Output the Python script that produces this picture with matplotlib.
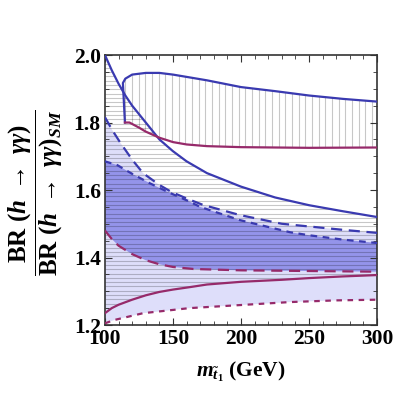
import numpy as np
import matplotlib
matplotlib.use("Agg")
import matplotlib.pyplot as plt
from matplotlib.patches import Polygon

plt.rcParams['font.family'] = 'Liberation Serif'
plt.rcParams['font.weight'] = 'bold'
plt.rcParams['axes.labelweight'] = 'bold'
plt.rcParams['mathtext.fontset'] = 'custom'
plt.rcParams['mathtext.rm'] = 'Liberation Serif:bold'
plt.rcParams['mathtext.it'] = 'Liberation Serif:bold:italic'
plt.rcParams['mathtext.bf'] = 'Liberation Serif:bold'

# solid blue, upper edge of the horizontally hatched band
blue_solid_x = [100, 105, 110, 115, 120, 130, 140, 150, 160, 175, 200, 225, 250, 275, 300]
blue_solid_y = [2.0, 1.955, 1.915, 1.88, 1.85, 1.80, 1.75, 1.715, 1.685, 1.65, 1.61, 1.578, 1.555, 1.537, 1.52]

# long dashed blue
blue_ldash_x = [100, 105, 111, 120, 128, 140, 149, 160, 172, 199, 230, 250, 275, 300]
blue_ldash_y = [1.816, 1.78, 1.742, 1.69, 1.65, 1.615, 1.594, 1.575, 1.556, 1.526, 1.50, 1.492, 1.482, 1.473]

# short dashed blue
blue_sdash_x = [100, 109, 120, 133, 148, 162, 170, 199, 236, 250, 275, 300]
blue_sdash_y = [1.685, 1.674, 1.648, 1.62, 1.591, 1.566, 1.55, 1.511, 1.475, 1.466, 1.453, 1.443]

# purple curves
purp_ldash_x = [100, 105, 110, 120, 130, 140, 150, 165, 200, 250, 300]
purp_ldash_y = [1.48, 1.455, 1.435, 1.41, 1.392, 1.38, 1.372, 1.366, 1.362, 1.36, 1.358]

purp_solid_x = [100, 105, 110, 120, 130, 140, 150, 162, 175, 200, 230, 250, 275, 300]
purp_solid_y = [1.235, 1.25, 1.26, 1.275, 1.288, 1.298, 1.305, 1.312, 1.32, 1.328, 1.334, 1.339, 1.344, 1.348]

purp_dot_x = [100, 107, 128, 162, 199, 236, 270, 300]
purp_dot_y = [1.205, 1.215, 1.235, 1.25, 1.259, 1.268, 1.273, 1.275]

# vertically hatched region (upper right)
vtop_x = [114.7, 113.2, 115, 120, 130, 140, 150, 175, 200, 225, 250, 275, 300]
vtop_y = [1.80, 1.917, 1.930, 1.942, 1.947, 1.947, 1.942, 1.925, 1.905, 1.893, 1.88, 1.87, 1.862]
vbot_x = [114.7, 118, 125, 130, 140, 150, 160, 175, 200, 250, 300]
vbot_y = [1.80, 1.80, 1.785, 1.773, 1.755, 1.742, 1.735, 1.73, 1.727, 1.725, 1.726]

blue = '#3a3ab0'
purple = '#962a6a'
light = '#dedefa'
dark = '#9494ea'


def band(x1, y1, x2, y2):
    pts = list(zip(x1, y1)) + list(zip(x2[::-1], y2[::-1]))
    return np.array(pts)


fig = plt.figure(figsize=(3.99, 3.93), dpi=100)
ax = fig.add_axes([0.263, 0.173, 0.682, 0.687])

# light bands and their overlap
ax.add_patch(Polygon(band(blue_ldash_x, blue_ldash_y, purp_ldash_x, purp_ldash_y),
                     facecolor=light, edgecolor='none', zorder=1))
ax.add_patch(Polygon(band(blue_sdash_x, blue_sdash_y, purp_dot_x, purp_dot_y),
                     facecolor=light, edgecolor='none', zorder=1))
ax.add_patch(Polygon(band(blue_sdash_x, blue_sdash_y, purp_ldash_x, purp_ldash_y),
                     facecolor=dark, edgecolor='none', zorder=1.1))

# horizontal hatching
hpoly = Polygon(band(blue_solid_x, blue_solid_y, purp_solid_x, purp_solid_y),
                facecolor='none', edgecolor='none', transform=ax.transData)
ax.add_patch(hpoly)
hl = ax.hlines(np.arange(1.2, 2.0, 0.0127), 100, 300, colors='black', alpha=0.22,
               linewidth=0.8, zorder=2)
hl.set_clip_path(hpoly)

# vertical hatching
vpoly = Polygon(band(vtop_x, vtop_y, vbot_x, vbot_y),
                facecolor='none', edgecolor='none', transform=ax.transData)
ax.add_patch(vpoly)
vl = ax.vlines(np.arange(115, 301, 4.9), 1.7, 1.96, colors='black', alpha=0.22,
               linewidth=0.8, zorder=2)
vl.set_clip_path(vpoly)

# curves
lw = 1.6
ax.plot(blue_solid_x, blue_solid_y, color=blue, lw=lw, zorder=3)
ax.plot(blue_ldash_x, blue_ldash_y, color=blue, lw=lw, dashes=(5, 3), zorder=3)
ax.plot(blue_sdash_x, blue_sdash_y, color=blue, lw=lw, dashes=(3, 2.5), zorder=3)
ax.plot(purp_ldash_x, purp_ldash_y, color=purple, lw=lw, dashes=(5, 3), zorder=3)
ax.plot(purp_solid_x, purp_solid_y, color=purple, lw=lw, zorder=3)
ax.plot(purp_dot_x, purp_dot_y, color=purple, lw=lw, dashes=(2.5, 2.5), zorder=3)
ax.plot(vtop_x, vtop_y, color=blue, lw=lw, zorder=3)
ax.plot(vbot_x, vbot_y, color=purple, lw=lw, zorder=3)

ax.set_xlim(100, 300)
ax.set_ylim(1.2, 2.0)
ax.set_xticks([100, 150, 200, 250, 300])
ax.set_yticks([1.2, 1.4, 1.6, 1.8, 2.0])
ax.set_xticks(np.arange(100, 301, 10), minor=True)
ax.set_yticks(np.arange(1.2, 2.001, 0.05), minor=True)
ax.tick_params(which='both', direction='in', top=True, right=True, color='#333333')
ax.tick_params(which='major', length=5, labelsize=15.5, pad=3)
ax.tick_params(which='minor', length=3)
for s in ax.spines.values():
    s.set_color('#333333')
    s.set_linewidth(1.2)

ax.set_xlabel(r'$m_{\tilde{t}_1}$ (GeV)', fontsize=15.5, fontweight='bold', labelpad=8)
ax.set_ylabel(r'$\dfrac{\mathrm{BR}\ (h\ \rightarrow\ \mathit{\gamma\gamma})}'
              r'{\mathrm{BR}\ (h\ \rightarrow\ \mathit{\gamma\gamma})_{\mathit{SM}}}$',
              fontsize=18)
ax.yaxis.set_label_coords(-0.145, 0.49)

fig.savefig('out.png', dpi=100)
